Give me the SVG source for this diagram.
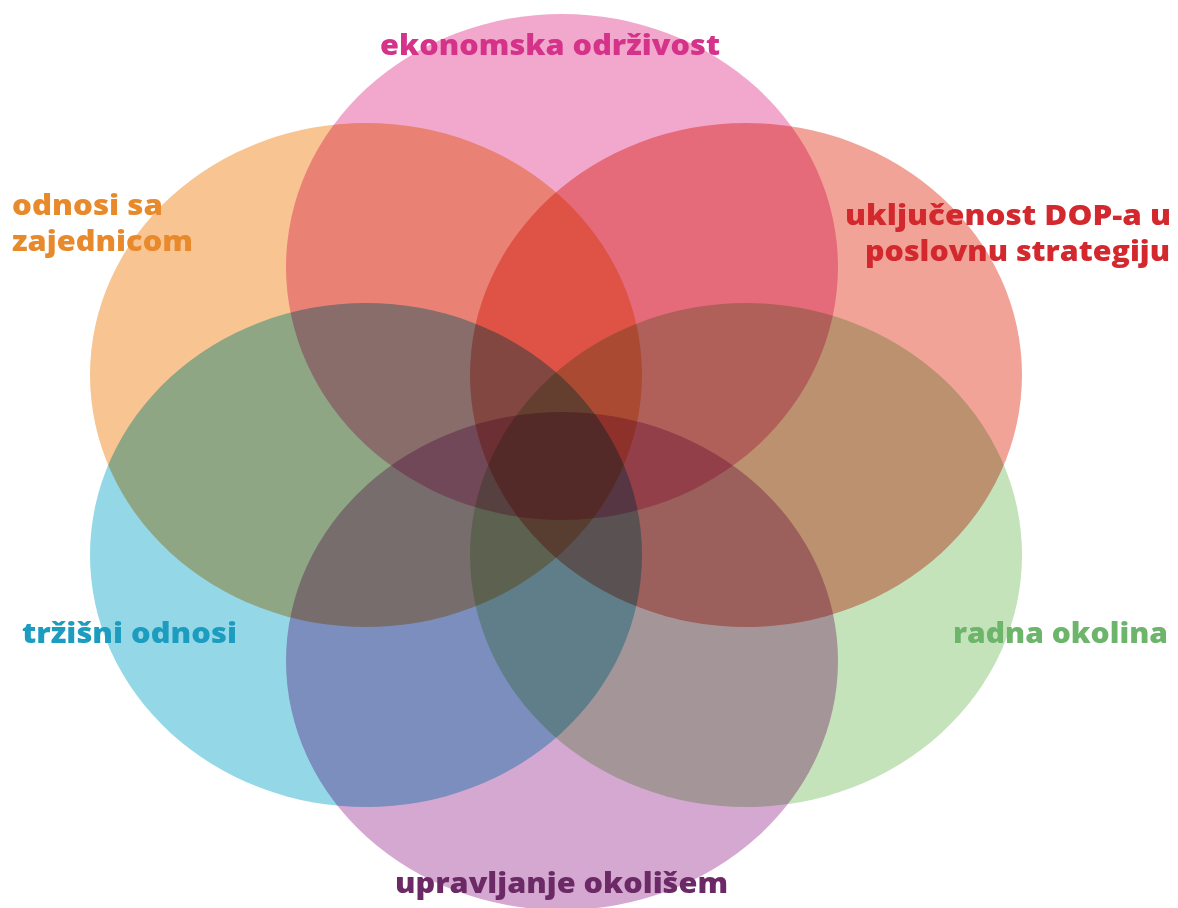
<svg xmlns="http://www.w3.org/2000/svg" width="1178" height="908" viewBox="0 0 1178 908">
<style>
.c{mix-blend-mode:multiply;}
.t{font-family:"Open Sans","Liberation Sans",sans-serif;font-weight:800;font-size:28px;}
</style>
<rect width="1178" height="908" fill="#ffffff"/>
<g id="circles">
<g id="node-ekonomska"><ellipse class="c" cx="562" cy="267" rx="276" ry="253" fill="#f2a8cc"/></g>
<g id="node-odnosi-zajednica"><ellipse class="c" cx="366" cy="375" rx="276" ry="252" fill="#f7c492"/></g>
<g id="node-ukljucenost"><ellipse class="c" cx="746" cy="375" rx="276" ry="252" fill="#f2a398"/></g>
<g id="node-trzisni"><ellipse class="c" cx="366" cy="555" rx="276" ry="252" fill="#94d8e8"/></g>
<g id="node-radna"><ellipse class="c" cx="746" cy="555" rx="276" ry="252" fill="#c5e3ba"/></g>
<g id="node-upravljanje"><ellipse class="c" cx="562" cy="661" rx="276" ry="249" fill="#d4a8d0"/></g>
</g>
<g id="labels">
<text class="t" x="380" y="55" textLength="340" lengthAdjust="spacingAndGlyphs" fill="#d5338a">ekonomska održivost</text>
<text class="t" x="12" y="215" textLength="151" lengthAdjust="spacingAndGlyphs" fill="#e88a2c">odnosi sa</text>
<text class="t" x="12" y="251" textLength="181" lengthAdjust="spacingAndGlyphs" fill="#e88a2c">zajednicom</text>
<text class="t" x="845" y="225" textLength="326" lengthAdjust="spacingAndGlyphs" fill="#d2282e">uključenost DOP-a u</text>
<text class="t" x="865" y="261" textLength="305" lengthAdjust="spacingAndGlyphs" fill="#d2282e">poslovnu strategiju</text>
<text class="t" x="22" y="643" textLength="215" lengthAdjust="spacingAndGlyphs" fill="#1c9cbf">tržišni odnosi</text>
<text class="t" x="953" y="643" textLength="215" lengthAdjust="spacingAndGlyphs" fill="#6cb56a">radna okolina</text>
<text class="t" x="395" y="893" textLength="333" lengthAdjust="spacingAndGlyphs" fill="#6b2a66">upravljanje okolišem</text>
</g>
</svg>
